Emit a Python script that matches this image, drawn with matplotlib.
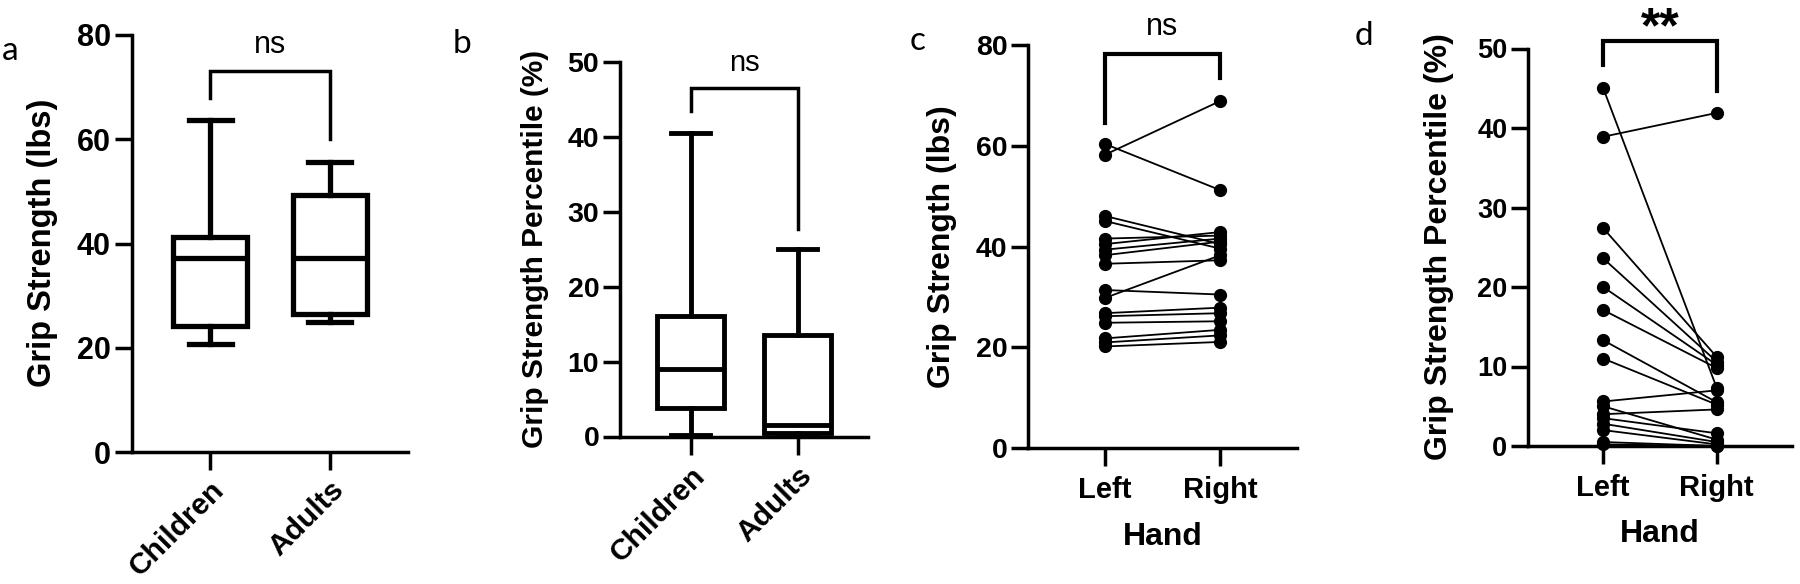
import matplotlib
matplotlib.use('Agg')
import matplotlib.pyplot as plt

# ---------------- data ----------------
groups = ['Children', 'Adults']
# panel a: grip strength (lbs) five-number summaries
a_min = [20.8, 25.0]
a_q1 = [24.2, 26.5]
a_med = [37.3, 37.3]
a_q3 = [41.3, 49.3]
a_max = [63.7, 55.7]
# panel b: grip strength percentile (%)
b_min = [0.25, 0.2]
b_q1 = [3.75, 0.5]
b_med = [9.0, 1.6]
b_q3 = [16.1, 13.6]
b_max = [40.5, 25.1]

hands = ['Left', 'Right']
# panel c: paired grip strength (lbs)
c_left = [60.4, 58.2, 46.1, 45.1, 41.6, 40.5, 39.4, 38.3, 36.6, 31.4, 29.8, 26.8, 26.2, 24.9, 21.8, 21.0, 20.2]
c_right = [51.2, 68.9, 40.5, 39.6, 42.2, 42.9, 41.6, 41.0, 37.3, 30.5, 38.3, 27.9, 26.8, 25.2, 23.5, 22.4, 21.1]
# panel d: paired grip strength percentile (%)
d_left = [45.0, 38.9, 27.4, 23.6, 20.0, 17.1, 13.3, 11.0, 5.6, 5.0, 4.0, 3.5, 2.8, 2.0, 0.5, 0.2]
d_right = [7.3, 41.9, 11.2, 10.6, 10.2, 9.8, 5.5, 5.2, 7.0, 0.8, 4.6, 1.6, 0.5, 0.2, 0.0, 0.0]

sig_ab = ['ns', 'ns']
sig_cd = ['ns', '**']

# ---------------- figure ----------------
W, H = 1800, 584
plt.rcParams['font.family'] = ['Liberation Sans', 'DejaVu Sans']
fig = plt.figure(figsize=(W / 100, H / 100), dpi=100)


def rect(x0, x1, ytop, ybot):
    return [x0 / W, 1 - ybot / H, (x1 - x0) / W, (ybot - ytop) / H]


def fx(x):
    return x / W


def fy(y):
    return 1 - y / H


def style(ax, ylim, yticks, fs, lw=2.5):
    for s in ['top', 'right']:
        ax.spines[s].set_visible(False)
    for s in ['left', 'bottom']:
        ax.spines[s].set_linewidth(lw)
    ax.set_ylim(*ylim)
    ax.set_yticks(yticks)
    ax.set_xlim(-0.66, 1.66)
    ax.tick_params(axis='y', length=12, width=lw, pad=3, labelsize=fs)
    ax.tick_params(axis='x', length=13, width=lw, labelsize=fs)
    for lab in ax.get_yticklabels():
        lab.set_fontweight('bold')


def box_panel(ax, mins, q1s, meds, q3s, maxs, lw, fs):
    stats = []
    for g, mn, q1, md, q3, mx in zip(groups, mins, q1s, meds, q3s, maxs):
        stats.append(dict(label=g, whislo=mn, q1=q1, med=md, q3=q3, whishi=mx, fliers=[]))
    ax.bxp(stats, positions=[0, 1], widths=0.62, capwidths=0.36, showfliers=False,
           patch_artist=True,
           boxprops=dict(facecolor='white', edgecolor='black', linewidth=lw),
           medianprops=dict(color='black', linewidth=lw, solid_capstyle='butt'),
           whiskerprops=dict(color='black', linewidth=lw),
           capprops=dict(color='black', linewidth=lw))
    ax.set_xticks([0, 1])
    ax.set_xticklabels(groups, rotation=45, ha='right', va='top',
                       rotation_mode='anchor', fontweight='bold', fontsize=fs)


def bracket(ax, ytop, yl, yr, label, lw, fs, ty, weight='normal'):
    ax.plot([0, 0, 1, 1], [yl, ytop, ytop, yr], color='black', lw=lw,
            clip_on=False, solid_joinstyle='miter')
    ax.text(0.5, ty, label, ha='center', va='center', fontsize=fs,
            fontweight=weight, clip_on=False)


# panel a
axa = fig.add_axes(rect(131.7, 408.3, 35, 452))
style(axa, (0, 80), [0, 20, 40, 60, 80], 22)
box_panel(axa, a_min, a_q1, a_med, a_q3, a_max, 3.8, 21.5)
axa.tick_params(axis='x', pad=4)
axa.set_xlim(-0.66, 1.66)
bracket(axa, 73, 68, 60, sig_ab[0], 2.5, 22, 78.0)

# panel b
axb = fig.add_axes(rect(620, 868.3, 62, 436.5))
style(axb, (0, 50), [0, 10, 20, 30, 40, 50], 20.5)
box_panel(axb, b_min, b_q1, b_med, b_q3, b_max, 3.5, 21.5)
axb.tick_params(axis='x', pad=5)
axb.set_xlim(-0.66, 1.66)
bracket(axb, 46.5, 43.5, 27.7, sig_ab[1], 2.5, 21, 49.8)


def paired_panel(ax, left, right):
    for l, r in zip(left, right):
        ax.plot([0, 1], [l, r], color='black', lw=1.3, marker='o', ms=8.5,
                mfc='black', mec='black', clip_on=False, zorder=3)
    ax.set_xticks([0, 1])
    ax.set_xticklabels(hands, fontweight='bold')
    ax.tick_params(axis='x', pad=7)


# panel c
axc = fig.add_axes(rect(1028.3, 1296.7, 45, 448.3))
paired_panel(axc, c_left, c_right)
style(axc, (0, 80), [0, 20, 40, 60, 80], 20.5)
axc.tick_params(axis='x', labelsize=21)
bracket(axc, 78.2, 64.6, 73.4, sig_cd[0], 3.0, 22, 83.6)

# panel d
axd = fig.add_axes(rect(1528.3, 1791.7, 48.5, 446))
paired_panel(axd, d_left, d_right)
style(axd, (0, 50), [0, 10, 20, 30, 40, 50], 19.5)
axd.tick_params(axis='x', labelsize=21)
bracket(axd, 50.9, 47.9, 44.6, sig_cd[1], 3.0, 36, 52.4, weight='bold')

# axis titles
fig.text(fx(43), fy(243), 'Grip Strength (lbs)', rotation=90, ha='center', va='center',
         fontsize=23.5, fontweight='bold')
fig.text(fx(535), fy(249), 'Grip Strength Percentile (%)', rotation=90, ha='center',
         va='center', fontsize=21.5, fontweight='bold')
fig.text(fx(942), fy(247), 'Grip Strength (lbs)', rotation=90, ha='center', va='center',
         fontsize=23, fontweight='bold')
fig.text(fx(1439), fy(247), 'Grip Strength Percentile (%)', rotation=90, ha='center',
         va='center', fontsize=23, fontweight='bold')
fig.text(fx(1162.7), fy(537), 'Hand', ha='center', va='center', fontsize=23, fontweight='bold')
fig.text(fx(1660), fy(534), 'Hand', ha='center', va='center', fontsize=23, fontweight='bold')

# panel letters
for lab, x, y in [('a', 2, 60), ('b', 453, 53), ('c', 910, 50), ('d', 1355, 45)]:
    fig.text(fx(x), fy(y), lab, ha='left', va='baseline', fontsize=24, family=['Lato', 'DejaVu Sans'])

fig.savefig('out.png', dpi=100)
